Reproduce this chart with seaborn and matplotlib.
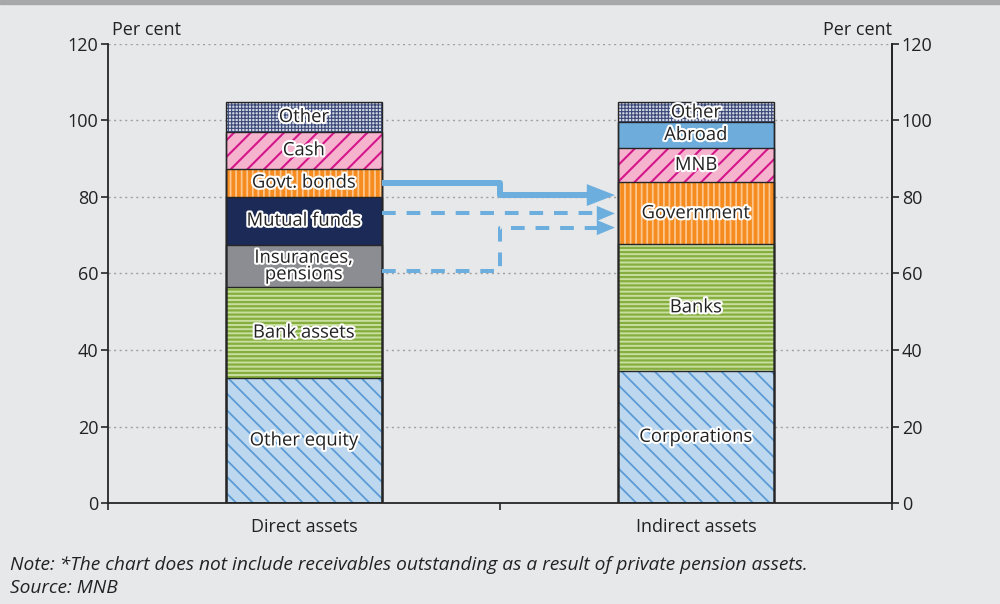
import matplotlib
matplotlib.use("Agg")
import matplotlib.pyplot as plt
import matplotlib.patheffects as pe
from matplotlib.patches import Rectangle
import seaborn as sns
import numpy as np

# ---------------- data ----------------
categories = ["Direct assets", "Indirect assets"]
direct_labels = ["Other equity", "Bank assets", "Insurances,\npensions",
                 "Mutual funds", "Govt. bonds", "Cash", "Other"]
direct_values = [32.7, 23.7, 11.1, 12.6, 7.3, 9.6, 7.8]
indirect_labels = ["Corporations", "Banks", "Government", "MNB", "Abroad", "Other"]
indirect_values = [34.6, 33.1, 16.1, 9.1, 6.6, 5.2]
y_ticks = [0, 20, 40, 60, 80, 100, 120]
y_unit = "Per cent"
note_text = "Note: *The chart does not include receivables outstanding as a result of private pension assets."
source_text = "Source: MNB"
# flows shown by arrows: (source level, target level, style)
flow_src = [83.7, 75.7, 60.6]
flow_dst = [80.5, 75.7, 72.0]
flow_style = ["solid", "dashed", "dashed"]

# ---------------- styles ----------------
BG = "#E7E8EA"
styles = {
    "Other equity": ("#BDD7EE", "\\\\", "#5B9BD5", 1.3),
    "Corporations": ("#BDD7EE", "\\\\", "#5B9BD5", 1.3),
    "Bank assets": ("#C9DFA0", "----", "#86AE3E", 1.6),
    "Banks": ("#C9DFA0", "----", "#86AE3E", 1.6),
    "Insurances,\npensions": ("#8C8D92", None, None, 1.0),
    "Mutual funds": ("#1B2A56", None, None, 1.0),
    "Govt. bonds": ("#F68B1F", "|||", "#FCC68E", 1.3),
    "Government": ("#F68B1F", "|||", "#FCC68E", 1.3),
    "Cash": ("#F6B3CE", "//", "#D4168A", 1.5),
    "MNB": ("#F6B3CE", "//", "#D4168A", 1.5),
    "Abroad": ("#6EADDB", None, None, 1.0),
    "Other": ("#D3D7E3", "+++++", "#3A4877", 0.8),
}
ARROW_C = "#6CAEDD"
TXT = "#222222"
FS = 13

sns.set_theme(style="white")
plt.rcParams["font.family"] = ["Open Sans", "DejaVu Sans"]
plt.rcParams["axes.facecolor"] = BG
plt.rcParams["figure.facecolor"] = BG

fig = plt.figure(figsize=(10, 6.04), dpi=100)
ax = fig.add_axes([0.108, 0.1672, 0.784, 0.76])
ax.set_facecolor(BG)

BAR_W = 0.4
series = [(categories[0], direct_labels, direct_values),
          (categories[1], indirect_labels, indirect_values)]

for cat, labels, values in series:
    cum = np.cumsum(values)
    # fills, from top to bottom so that lower segments cover taller bars
    for i in range(len(values) - 1, -1, -1):
        face, hatch, hcol, hlw = styles[labels[i]]
        kws = dict(x=[cat], y=[cum[i]], order=categories, color=face,
                   saturation=1, width=BAR_W, ax=ax, errorbar=None)
        if hatch:
            with plt.rc_context({"hatch.linewidth": hlw}):
                sns.barplot(**kws, hatch=hatch, edgecolor=hcol, linewidth=0)
        else:
            sns.barplot(**kws, linewidth=0)
    # outlines
    for i in range(len(values) - 1, -1, -1):
        sns.barplot(x=[cat], y=[cum[i]], order=categories, color="#262626",
                    fill=False, width=BAR_W, linewidth=1.0, ax=ax, errorbar=None)
    # labels
    xpos = categories.index(cat)
    bottoms = np.concatenate([[0], cum[:-1]])
    for lab, b, c in zip(labels, bottoms, cum):
        ax.text(xpos, (b + c) / 2, lab, ha="center", va="center",
                fontsize=13.3, color=TXT, linespacing=0.9, zorder=10,
                path_effects=[pe.withStroke(linewidth=3, foreground="white")])

# arrows
x_src, x_mid, x_tip = 0.5 * BAR_W, 0.5, 1 - 0.5 * BAR_W - 0.007
for s, d, st in zip(flow_src, flow_dst, flow_style):
    if st == "solid":
        lw, hl, hw, ms = 4.3, 1.0, 0.39, 20.2
        head_len = 28 / 392
        ax.plot([x_src, x_mid, x_mid, x_tip - head_len + 0.01],
                [s, s, d, d], color=ARROW_C, lw=lw, solid_joinstyle="round",
                solid_capstyle="butt", zorder=6)
    else:
        lw, hl, hw, ms = 2.9, 1.0, 0.42, 13.0
        head_len = 18 / 392
        ax.plot([x_src, x_mid, x_mid, x_tip - head_len + 0.005],
                [s, s, d, d], color=ARROW_C, lw=lw, dashes=(3.4, 2.7),
                dash_capstyle="butt", zorder=6)
    ax.annotate("", xy=(x_tip, d), xytext=(x_tip - head_len, d),
                arrowprops=dict(arrowstyle=f"-|>,head_length={hl},head_width={hw}",
                                mutation_scale=ms, color=ARROW_C, lw=0,
                                shrinkA=0, shrinkB=0), zorder=7)

# axes styling
ax.set_xlim(-0.5, 1.5)
ax.set_ylim(0, 120)
ax.set_yticks(y_ticks)
ax.set_xlabel("")
ax.set_ylabel("")
ax.set_xticks([0, 1])
ax.set_xticklabels(categories, fontsize=FS, color=TXT)
ax.set_xticks([-0.5, 0.5, 1.5], minor=True)
ax.tick_params(axis="x", which="major", length=0, pad=11)
ax.tick_params(axis="x", which="minor", length=5, width=1.2, color="#262626",
               direction="out", bottom=True)
ax.tick_params(axis="y", length=5, width=1.2, color="#262626", direction="out",
               labelsize=FS, labelcolor=TXT, pad=2, left=True)
ax.yaxis.grid(True, color="#A0A0A0", linestyle=(0, (1.5, 2.5)), linewidth=1.0)
ax.xaxis.grid(False)
ax.set_axisbelow(True)
for sp in ["left", "right", "bottom"]:
    ax.spines[sp].set_visible(True)
    ax.spines[sp].set_color("#262626")
    ax.spines[sp].set_linewidth(1.3)
ax.spines["top"].set_visible(False)

ax2 = ax.twinx()
ax2.set_ylim(0, 120)
ax2.set_yticks(y_ticks)
ax2.tick_params(axis="y", length=5, width=1.2, color="#262626", direction="out",
                labelsize=FS, labelcolor=TXT, pad=2, right=True)
for sp in ["left", "top", "bottom"]:
    ax2.spines[sp].set_visible(False)
ax2.spines["right"].set_color("#262626")
ax2.spines["right"].set_linewidth(1.3)
ax2.grid(False)

fig.text(0.112, 1 - 30 / 604, y_unit, ha="left", va="center", fontsize=FS, color=TXT)
fig.text(0.892, 1 - 30 / 604, y_unit, ha="right", va="center", fontsize=FS, color=TXT)
fig.text(0.01, 1 - 565 / 604, note_text, ha="left", va="center", fontsize=13.8,
         style="italic", color=TXT)
fig.text(0.01, 1 - 588 / 604, source_text, ha="left", va="center", fontsize=13.8,
         style="italic", color=TXT)

fig.add_artist(Rectangle((0, 1 - 4 / 604), 1, 4 / 604, transform=fig.transFigure,
                         color="#A7A8AA", zorder=0))

fig.savefig("out.png", dpi=100, facecolor=BG)
